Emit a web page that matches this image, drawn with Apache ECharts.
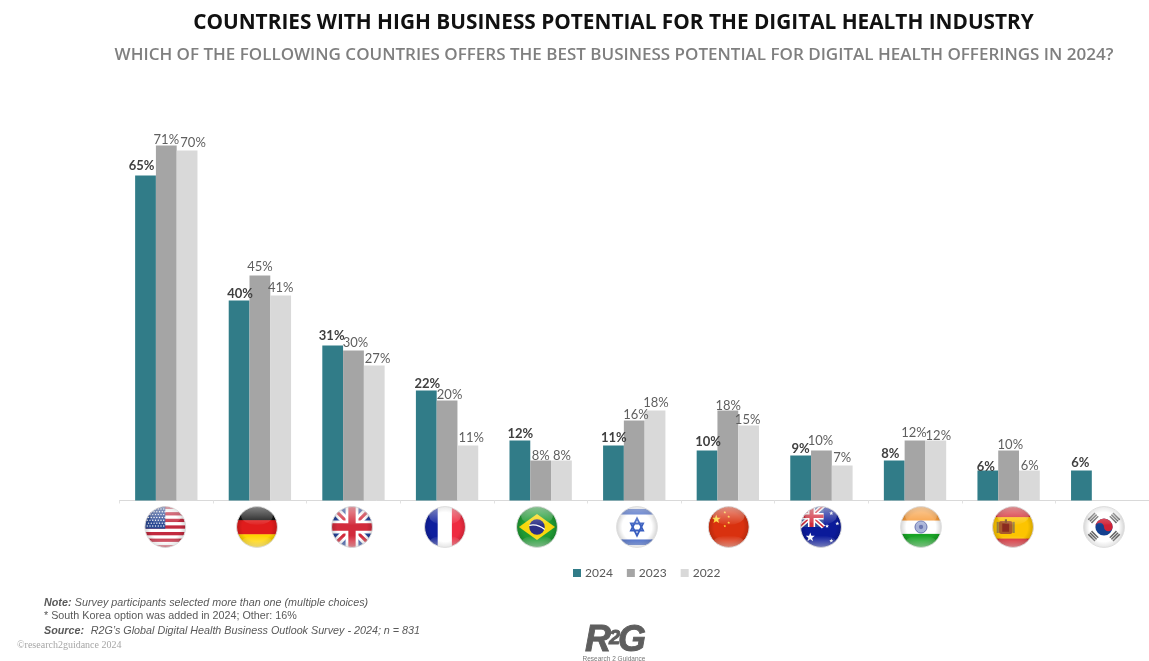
<!DOCTYPE html>
<html>
<head>
<meta charset="utf-8">
<title>Digital health business potential by country</title>
<script src="https://cdn.jsdelivr.net/npm/echarts@6/dist/echarts.min.js"></script>
<style>html,body{margin:0;padding:0;background:#fff}#chart{width:1149px;height:661px}</style>
</head>
<body>
<div id="chart"></div>
<script>
// Survey results, percent of respondents
const countries = ['USA','Germany','UK','France','Brazil','Israel','China','Australia','India','Spain','South Korea'];
const values2024 = [65,40,31,22,12,11,10,9,8,6,6];
const values2023 = [71,45,30,20,8,16,18,10,12,10,null];
const values2022 = [70,41,27,11,8,18,15,7,12,6,null];

// Hand-placed value labels: [horizontal shift, distance of label centre above the bar]
const nudge2024 = [[-4,10],[1,7],[-1,9.3],[1,6.7],[0.5,6.7],[0.3,7.7],[1,8.3],[0,6.3],[-4,6.7],[-2,4],[-1,8]];
const nudge2023 = [[0,5.3],[0,9],[2,7.7],[2.5,5.3],[0,5],[1.7,6],[0.3,4.3],[-1,9.3],[-1,7.3],[1.7,5.7],[0,0]];
const nudge2022 = [[6,8],[0,8],[3.3,6.7],[3.3,7.7],[0.5,4.5],[1,8],[-1,5.7],[0,7.3],[2.5,4.3],[0.3,5],[0,0]];

// Flag centres along the row beneath the axis
const flagCentres = [165.3,257,352,445,537,637,728.7,821,921,1013,1104];
const flagRowY = 527;
const flagDiameter = 43;

const fmtStar = (cx, cy, r, fill) => {
  let pts = [];
  for (let i = 0; i < 10; i++) {
    const a = -Math.PI / 2 + i * Math.PI / 5, q = i % 2 ? r * 0.42 : r;
    pts.push((cx + q * Math.cos(a)).toFixed(1) + ',' + (cy + q * Math.sin(a)).toFixed(1));
  }
  return `<polygon points="${pts.join(' ')}" fill="${fill}"/>`;
};
const unionJack = (x, y, w, h) => {
  const s = w / 100;
  return `<g transform="translate(${x} ${y}) scale(${s} ${h / 100})">
    <rect width="100" height="100" fill="#26459a"/>
    <path d="M0 0L100 100M100 0L0 100" stroke="#fff" stroke-width="20"/>
    <path d="M0 0L100 100M100 0L0 100" stroke="#d22b3c" stroke-width="7"/>
    <path d="M50 0V100M0 50H100" stroke="#fff" stroke-width="30"/>
    <path d="M50 0V100M0 50H100" stroke="#d22b3c" stroke-width="17"/></g>`;
};
const usaFlag = () => {
  let s = '<rect width="100" height="100" fill="#fff"/>';
  for (let i = 0; i < 7; i++) s += `<rect y="${i * 15.4}" width="100" height="7.7" fill="#c22a3f"/>`;
  s += '<rect width="50" height="54" fill="#2c4a94"/>';
  for (let r = 0; r < 7; r++) for (let c = 0; c < 7; c++)
    s += `<circle cx="${8 + c * 6.4 + (r % 2) * 3}" cy="${8 + r * 6.6}" r="1.6" fill="#fff"/>`;
  return s;
};
const flagArt = {
  USA: usaFlag,
  Germany: () => '<rect width="100" height="36" fill="#111"/><rect y="34" width="100" height="34" fill="#e01c1c"/><rect y="67" width="100" height="33" fill="#ffd400"/>',
  UK: () => unionJack(0, 0, 100, 100),
  France: () => '<rect width="34" height="100" fill="#0f1f9e"/><rect x="33" width="34" height="100" fill="#fff"/><rect x="66" width="34" height="100" fill="#ee2b40"/>',
  Brazil: () => '<rect width="100" height="100" fill="#1f9a33"/><polygon points="50,20 92,50 50,80 8,50" fill="#f8d70e"/><circle cx="50" cy="50" r="18" fill="#2c2f86"/><path d="M32 46Q52 42 68 56" stroke="#fff" stroke-width="3" fill="none"/>',
  Israel: () => '<rect width="100" height="100" fill="#fff"/><rect y="8" width="100" height="13" fill="#3a5fc0"/><rect y="79" width="100" height="13" fill="#3a5fc0"/><polygon points="50,30 64,58 36,58" fill="none" stroke="#3a5fc0" stroke-width="4.5"/><polygon points="50,70 64,42 36,42" fill="none" stroke="#3a5fc0" stroke-width="4.5"/>',
  China: () => '<rect width="100" height="100" fill="#d9310f"/>' + fmtStar(21, 32, 11, '#ffd83a') + fmtStar(41, 16, 3.5, '#ffd83a') + fmtStar(50, 26, 3.5, '#ffd83a') + fmtStar(50, 40, 3.5, '#ffd83a') + fmtStar(41, 48, 3.5, '#ffd83a'),
  Australia: () => '<rect width="100" height="100" fill="#0b1a9a"/>' + unionJack(0, 0, 56, 50) + fmtStar(25, 74, 11, '#fff') + fmtStar(74, 18, 5, '#fff') + fmtStar(88, 42, 5, '#fff') + fmtStar(64, 48, 5, '#fff') + fmtStar(74, 82, 5, '#fff'),
  India: () => '<rect width="100" height="36" fill="#f79c3c"/><rect y="35" width="100" height="32" fill="#fff"/><rect y="66" width="100" height="34" fill="#18a325"/><circle cx="50" cy="50" r="14" fill="#aab4d8"/><circle cx="50" cy="50" r="14" fill="none" stroke="#5b67a8" stroke-width="2"/><circle cx="50" cy="50" r="5" fill="#6c76b0"/>',
  Spain: () => '<rect width="100" height="100" fill="#d3262f"/><rect y="27" width="100" height="50" fill="#fcc400"/><rect x="17" y="36" width="32" height="30" rx="6" fill="#a85a2c"/><rect x="25" y="42" width="16" height="19" fill="#8a2b1f"/><rect x="31" y="32" width="5" height="8" fill="#7a4a1c"/><rect x="12" y="38" width="5" height="26" fill="#9a8142"/><rect x="49" y="38" width="5" height="26" fill="#9a8142"/>',
  'South Korea': () => {
    const bar = (x, y, a) => `<g transform="translate(${x} ${y}) rotate(${a})"><rect x="-11" y="-7" width="22" height="3.6" fill="#666"/><rect x="-11" y="-1.8" width="22" height="3.6" fill="#666"/><rect x="-11" y="3.4" width="22" height="3.6" fill="#666"/></g>`;
    return '<rect width="100" height="100" fill="#fff"/>' + bar(25, 29, -45) + bar(75, 29, 45) + bar(25, 71, 45) + bar(75, 71, -45) +
      '<circle cx="50" cy="50" r="20" fill="#14408f"/><path d="M30 50A20 20 0 0 1 70 50A10 10 0 0 1 50 50A10 10 0 0 0 30 50Z" fill="#cf2136"/>';
  }
};
// Wraps the flag art in a round badge with a glossy sheen
const badge = name => {
  const art = flagArt[name]();
  const svg = `<svg xmlns="http://www.w3.org/2000/svg" width="172" height="172" viewBox="0 0 100 100">
    <defs>
      <clipPath id="c"><circle cx="50" cy="50" r="47.5"/></clipPath>
      <radialGradient id="e" cx="50%" cy="50%" r="50%"><stop offset="72%" stop-color="#000" stop-opacity="0"/><stop offset="100%" stop-color="#000" stop-opacity=".16"/></radialGradient>
      <linearGradient id="h" x1="0" y1="0" x2="0" y2="1"><stop offset="0%" stop-color="#fff" stop-opacity=".48"/><stop offset="100%" stop-color="#fff" stop-opacity=".04"/></linearGradient>
      <linearGradient id="b" x1="0" y1="0" x2="0" y2="1"><stop offset="0%" stop-color="#fff" stop-opacity="0"/><stop offset="100%" stop-color="#fff" stop-opacity=".45"/></linearGradient>
    </defs>
    <g clip-path="url(#c)">${art}
      <circle cx="50" cy="50" r="47.5" fill="url(#e)"/>
      <ellipse cx="50" cy="24" rx="37" ry="21" fill="url(#h)"/>
      <ellipse cx="50" cy="84" rx="35" ry="14" fill="url(#b)"/>
    </g>
    <circle cx="50" cy="50" r="47.5" fill="none" stroke="#dcdcdc" stroke-width="2.2"/>
  </svg>`;
  return 'data:image/svg+xml;charset=utf-8,' + encodeURIComponent(svg);
};

const withNudges = (vals, nudges) => vals.map((v, i) => ({
  value: v,
  label: { offset: [nudges[i][0], 6.5 - nudges[i][1]] }
}));
const barSeries = (name, vals, nudges, color, bold) => ({
  name, type: 'bar', barGap: 0, barCategoryGap: '33.4%',
  data: withNudges(vals, nudges),
  itemStyle: { color },
  label: {
    show: true, position: 'top', distance: 0,
    formatter: p => p.value == null ? '' : p.value + '%',
    fontFamily: 'Lato', fontSize: 13,
    fontWeight: bold ? 'bold' : 'normal',
    color: bold ? '#404040' : '#5f5f5f'
  }
});

const noteGrey = '#595959';
const noteRich = {
  b: { fontFamily: 'Liberation Sans', fontStyle: 'italic', fontWeight: 'bold', fontSize: 10.75, fill: noteGrey },
  i: { fontFamily: 'Liberation Sans', fontStyle: 'italic', fontSize: 10.75, fill: noteGrey }
};
const logoText = (text, x, y, fontSize) => ({
  type: 'text', x, y,
  style: { text, fontFamily: 'Liberation Sans', fontStyle: 'italic', fontWeight: 'bold', fontSize, fill: '#5e5e5e', stroke: '#5e5e5e', lineWidth: 0.9, verticalAlign: 'middle' }
});
const option = {
  animation: false,
  backgroundColor: '#fff',
  grid: { left: 119.5, width: 1031, top: 100.5, height: 400 },
  xAxis: {
    type: 'category', data: countries,
    axisLine: { lineStyle: { color: '#d9d9d9', width: 1 } },
    axisTick: { show: true, length: 3, lineStyle: { color: '#e2e2e2' } },
    axisLabel: { show: false }
  },
  yAxis: { type: 'value', min: 0, max: 80, show: false },
  legend: {
    left: 573, top: 567, padding: 0, icon: 'rect', itemWidth: 8, itemHeight: 8, itemGap: 14,
    textStyle: { fontFamily: 'Lato', fontSize: 12, color: '#595959', padding: [0, 0, 0, -1] },
    data: ['2024', '2023', '2022']
  },
  series: [
    barSeries('2024', values2024, nudge2024, '#317c88', true),
    barSeries('2023', values2023, nudge2023, '#a5a5a5', false),
    barSeries('2022', values2022, nudge2022, '#d9d9d9', false)
  ],
  graphic: [
    { type: 'text', x: 613.5, y: 23, style: { text: 'COUNTRIES WITH HIGH BUSINESS POTENTIAL FOR THE DIGITAL HEALTH INDUSTRY', fontFamily: 'Open Sans', fontWeight: 700, fontSize: 20.8, fill: '#111', align: 'center', verticalAlign: 'middle' } },
    { type: 'text', x: 614, y: 55, style: { text: 'WHICH OF THE FOLLOWING COUNTRIES OFFERS THE BEST BUSINESS POTENTIAL FOR DIGITAL HEALTH OFFERINGS IN 2024?', fontFamily: 'Open Sans', fontWeight: 600, fontSize: 17, fill: '#7f7f7f', align: 'center', verticalAlign: 'middle' } },
    ...countries.map((c, i) => ({
      type: 'image', silent: true,
      style: { image: badge(c), x: flagCentres[i] - flagDiameter / 2, y: flagRowY - flagDiameter / 2, width: flagDiameter, height: flagDiameter }
    })),
    { type: 'text', x: 44, y: 603, style: { text: '{b|Note:} {i|Survey participants selected more than one (multiple choices)}', verticalAlign: 'middle', rich: noteRich } },
    { type: 'text', x: 44, y: 616.5, style: { text: '* South Korea option was added in 2024; Other: 16%', fontFamily: 'Liberation Sans', fontSize: 10.75, fill: noteGrey, verticalAlign: 'middle' } },
    { type: 'text', x: 44, y: 631, style: { text: '{b|Source:}  {i|R2G\u2019s Global Digital Health Business Outlook Survey - 2024; n = 831}', verticalAlign: 'middle', rich: noteRich } },
    { type: 'text', x: 17, y: 645, style: { text: '\u00a9research2guidance 2024', fontFamily: 'Liberation Serif', fontSize: 10, fill: '#a6a6a6', verticalAlign: 'middle' } },
    logoText('R', 585, 641, 36),
    logoText('2', 609, 638, 20),
    logoText('G', 618, 641, 36),
    { type: 'text', x: 614, y: 659.5, style: { text: 'Research 2 Guidance', fontFamily: 'Liberation Sans', fontSize: 6.5, fill: '#777', align: 'center', verticalAlign: 'middle' } }
  ]
};
echarts.init(document.getElementById('chart'), null, { renderer: 'canvas' }).setOption(option);
</script>
</body>
</html>
